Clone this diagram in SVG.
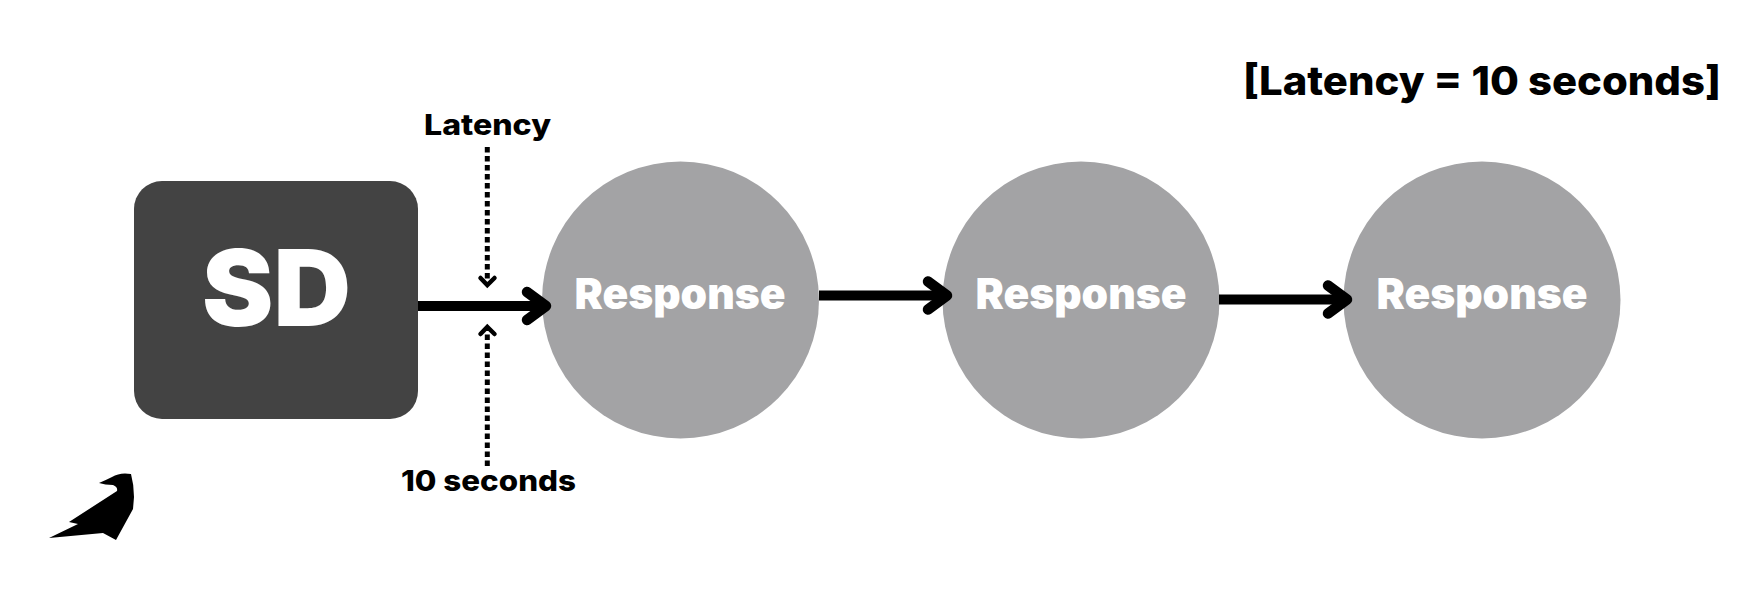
<svg xmlns="http://www.w3.org/2000/svg" width="1755" height="600" viewBox="0 0 1755 600">
<style>
text{font-family:"Inter","Liberation Sans",sans-serif;font-weight:900}
.lbl{fill:#000;font-weight:800}
.w{fill:#fff}
.c{fill:#a3a3a5}
.main{fill:none;stroke:#000;stroke-width:10}
.head{fill:none;stroke:#000;stroke-width:10.500;stroke-linecap:round;stroke-linejoin:round}
.dot{fill:none;stroke:#000;stroke-width:5;stroke-dasharray:5.500 3.500}
.dh{fill:none;stroke:#000;stroke-width:4.500;stroke-linecap:round;stroke-linejoin:miter}
</style>
<rect width="1755" height="600" fill="#fff"/>
<g id="sd"><rect x="134" y="181" width="284" height="238" rx="28" fill="#434343"/><text class="w" x="202" y="326" font-size="106" textLength="149" lengthAdjust="spacingAndGlyphs">SD</text></g>
<g id="response1"><circle class="c" cx="680.500" cy="300" r="138.500"/><text class="w" x="574.500" y="309" font-size="43" textLength="211" lengthAdjust="spacingAndGlyphs">Response</text></g>
<g id="response2"><circle class="c" cx="1081" cy="300" r="138.500"/><text class="w" x="975.500" y="309" font-size="43" textLength="211" lengthAdjust="spacingAndGlyphs">Response</text></g>
<g id="response3"><circle class="c" cx="1482" cy="300" r="138.500"/><text class="w" x="1376.500" y="309" font-size="43" textLength="211" lengthAdjust="spacingAndGlyphs">Response</text></g>
<g id="connectors">
<path class="main" d="M418 306H545"/><path class="head" d="M527 292L546 306L527 320"/>
<path class="main" d="M819 295.500H946"/><path class="head" d="M928 281.500L947 295.500L928 309.500"/>
<path class="main" d="M1219 299.500H1346"/><path class="head" d="M1328 285.500L1347 299.500L1328 313.500"/>
<path class="dot" d="M487.300 147V282"/><path class="dh" d="M480.500 278L487.300 285L494.500 278"/>
<path class="dot" d="M487.300 466V330"/><path class="dh" d="M480.500 334L487.300 327L494.500 334"/>
</g>
<g id="labels">
<text class="lbl" x="424" y="135" font-size="29" textLength="127" lengthAdjust="spacingAndGlyphs">Latency</text>
<text class="lbl" x="401" y="491" font-size="29" textLength="175" lengthAdjust="spacingAndGlyphs">10 seconds</text>
<text class="lbl" x="1243" y="95" font-size="40" textLength="478" lengthAdjust="spacingAndGlyphs">[Latency = 10 seconds]</text>
</g>
<g id="logo"><path fill="#000" d="M49 538L78 524L69 522L117 491Q118 487 113 485Q105 485 99 483Q106 480 112 477Q120 472 131 474Q134 485 134 497L133 509L116 540L103 533Z"/></g>
</svg>
